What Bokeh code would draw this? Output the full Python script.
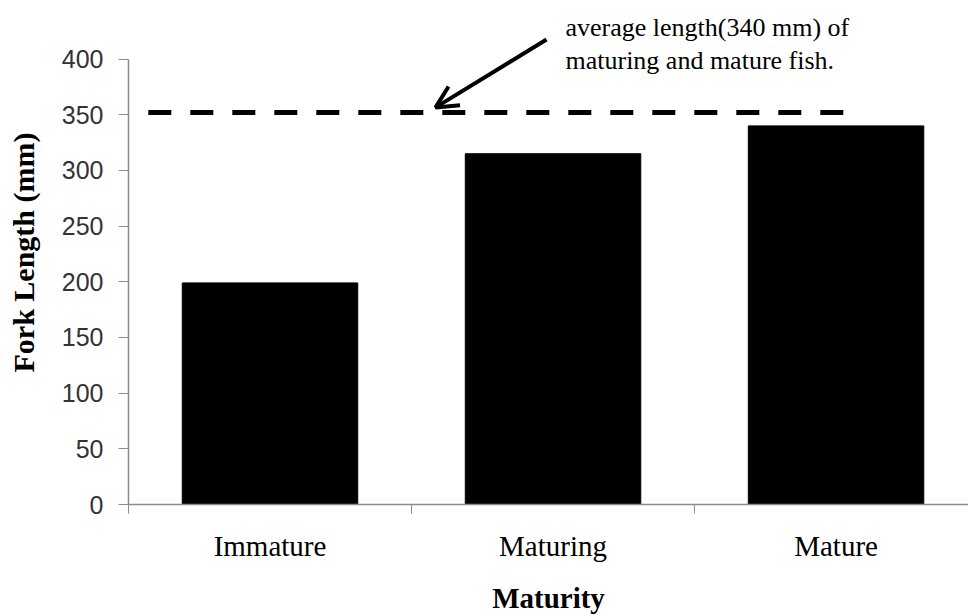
from bokeh.plotting import figure
from bokeh.models import Range1d, FixedTicker, ColumnDataSource, Arrow, OpenHead, Label
from bokeh.embed import file_html
from bokeh.resources import INLINE

# ---- data ----
categories = ["Immature", "Maturing", "Mature"]
fork_length = [199, 315, 340]          # mm
reference_level = 352                   # dashed line as drawn
annotation_lines = ["average length(340 mm) of", "maturing and mature fish."]
y_ticks = [0, 50, 100, 150, 200, 250, 300, 350, 400]

# ---- figure ----
n = len(categories)
centers = [i + 0.5 for i in range(n)]

p = figure(width=968, height=616, output_backend="svg", toolbar_location=None,
           x_range=Range1d(0, 2.968), y_range=Range1d(0, 452.6),
           min_border_left=128, min_border_right=0, min_border_top=0,
           min_border_bottom=112)
p.outline_line_color = None
p.xgrid.visible = False
p.ygrid.visible = False
p.background_fill_color = "white"
p.border_fill_color = "white"

src = ColumnDataSource(dict(x=centers, top=fork_length, cat=categories))
p.vbar(x="x", top="top", width=0.62, bottom=0, source=src,
       fill_color="black", line_color="black")

# dashed average line
p.line(x=[0.07, 2.53], y=[reference_level, reference_level], line_color="black",
       line_width=5, line_dash="23 19", line_cap="butt")

# arrow
p.add_layout(Arrow(x_start=1.477, y_start=417.6, x_end=1.085, y_end=356.6,
                   line_color="black", line_width=4,
                   end=OpenHead(size=22, line_color="black", line_width=4)))

# annotation text
for i, t in enumerate(annotation_lines):
    p.add_layout(Label(x=1.544, y=428.3 - i * 29.6, text=t,
                       text_font="Liberation Serif", text_font_size="26px",
                       text_color="black", text_baseline="alphabetic"))

# axes
axis_col = "#8c8c8c"
xa = p.xaxis[0]
xa.ticker = FixedTicker(ticks=centers, minor_ticks=[0, 1, 2, 3])
xa.major_label_overrides = {c: lab for c, lab in zip(centers, categories)}
xa.major_tick_out = 0
xa.major_tick_in = 0
xa.minor_tick_out = 9
xa.minor_tick_in = 0
xa.minor_tick_line_color = axis_col
xa.axis_line_color = axis_col
xa.axis_line_width = 1.5
xa.major_label_standoff = 16
xa.major_label_text_font = "Liberation Serif"
xa.major_label_text_font_size = "29px"
xa.major_label_text_color = "black"
xa.axis_label = "Maturity"
xa.axis_label_text_font = "Liberation Serif"
xa.axis_label_text_font_style = "bold"
xa.axis_label_text_font_size = "29px"
xa.axis_label_standoff = 17
xa.axis_label_text_color = "black"

ya = p.yaxis[0]
ya.ticker = FixedTicker(ticks=y_ticks, minor_ticks=[])
ya.bounds = (0, 400)
ya.major_tick_out = 10
ya.major_tick_in = 0
ya.minor_tick_out = 0
ya.minor_tick_in = 0
ya.major_tick_line_color = axis_col
ya.axis_line_color = axis_col
ya.axis_line_width = 1.5
ya.major_label_standoff = 15
ya.major_label_text_font = "Liberation Sans"
ya.major_label_text_font_size = "25px"
ya.major_label_text_color = "#333333"
ya.axis_label = "Fork Length (mm)"
ya.axis_label_text_font = "Liberation Serif"
ya.axis_label_text_font_style = "bold"
ya.axis_label_text_font_size = "30px"
ya.axis_label_standoff = 19
ya.axis_label_text_color = "black"

open("out.html", "w").write(file_html(p, INLINE))
